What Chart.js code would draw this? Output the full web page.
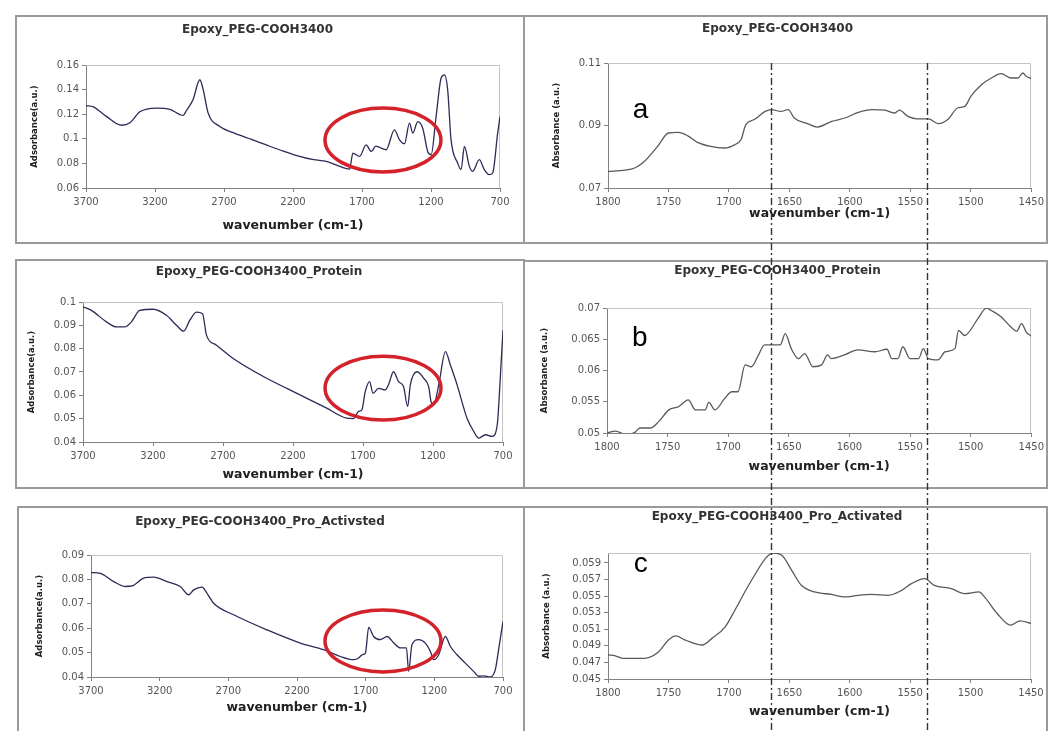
<!DOCTYPE html>
<html>
<head>
<meta charset="utf-8">
<script src="https://cdn.jsdelivr.net/npm/chart.js@4/dist/chart.umd.min.js"></script>
<style>
  html, body { margin: 0; padding: 0; background: #fff; width: 1050px; height: 731px; overflow: hidden; }
  .box { position: absolute; border: 2px solid #9a9a9a; box-sizing: border-box; }
  canvas.pc { position: absolute; z-index: 2; }
  #overlay { position: absolute; left: 0; top: 0; z-index: 5; pointer-events: none; }
</style>
</head>
<body>
<canvas id="overlay" width="1050" height="731"></canvas>
<script>
// ---------- data ----------
const xTicksFull = [3700, 3200, 2700, 2200, 1700, 1200, 700];
const xTicksZoom = [1800, 1750, 1700, 1650, 1600, 1550, 1500, 1450];

const yTicksLeftA = [0.06, 0.08, 0.1, 0.12, 0.14, 0.16];
const yTicksLeftB = [0.04, 0.05, 0.06, 0.07, 0.08, 0.09, 0.1];
const yTicksLeftC = [0.04, 0.05, 0.06, 0.07, 0.08, 0.09];
const yTicksRightA = [0.07, 0.09, 0.11];
const yTicksRightB = [0.05, 0.055, 0.06, 0.065, 0.07];
const yTicksRightC = [0.045, 0.047, 0.049, 0.051, 0.053, 0.055, 0.057, 0.059];

const titles = [
  'Epoxy_PEG-COOH3400', 'Epoxy_PEG-COOH3400',
  'Epoxy_PEG-COOH3400_Protein', 'Epoxy_PEG-COOH3400_Protein',
  'Epoxy_PEG-COOH3400_Pro_Activsted', 'Epoxy_PEG-COOH3400_Pro_Activated'
];
const xTitle = 'wavenumber (cm-1)';
const yTitleLeft = 'Adsorbance(a.u.)';
const yTitleRight = 'Absorbance (a.u.)';

// full spectra, 3700 -> 700
const leftA_x = [3700,3647,3550,3442,3382,3310,3189,3092,2996,2972,2924,2875,2851,2815,2730,2634,2500,2393,2270,2152,2050,1959,1862,1790,1766,1718,1670,1633,1600,1573,1525,1465,1428,1392,1356,1332,1296,1260,1224,1199,1163,1127,1103,1079,1055,1007,982,958,922,898,850,814,777,753,717,700];
const leftA_y = [0.127,0.126,0.118,0.111,0.113,0.122,0.125,0.124,0.119,0.123,0.132,0.148,0.140,0.121,0.110,0.105,0.0995,0.095,0.090,0.0857,0.083,0.0816,0.0776,0.0754,0.0884,0.0857,0.0951,0.0897,0.094,0.093,0.0911,0.1073,0.0992,0.096,0.1127,0.1046,0.114,0.1086,0.0897,0.087,0.1181,0.1492,0.1519,0.1397,0.0995,0.0803,0.0749,0.0938,0.0776,0.0735,0.083,0.0749,0.0708,0.0722,0.1046,0.1181];

const leftB_x = [3700,3640,3533,3462,3402,3354,3295,3199,3104,3032,2980,2937,2889,2846,2818,2746,2627,2388,2150,1959,1816,1768,1732,1708,1684,1653,1629,1589,1541,1518,1482,1446,1410,1381,1362,1314,1266,1231,1214,1195,1159,1111,1076,1028,980,957,909,873,825,777,741,717,700];
const leftB_y = [0.0979,0.0964,0.0915,0.0893,0.0893,0.0915,0.0964,0.0969,0.0943,0.09,0.0875,0.0922,0.0957,0.095,0.0858,0.0815,0.0758,0.0673,0.0602,0.0545,0.0502,0.05,0.0531,0.0538,0.0616,0.0659,0.0609,0.063,0.0623,0.0645,0.0701,0.0659,0.0637,0.0552,0.0645,0.0701,0.0673,0.0637,0.0573,0.0559,0.0645,0.0787,0.073,0.0645,0.0545,0.0502,0.0445,0.0417,0.0431,0.0424,0.0474,0.0701,0.0879];

const leftC_x = [3700,3632,3535,3450,3401,3317,3244,3147,3050,2989,2952,2892,2855,2807,2661,2418,2176,2006,1885,1787,1751,1726,1702,1678,1642,1593,1544,1495,1447,1403,1387,1363,1314,1266,1229,1205,1168,1120,1083,1035,974,914,877,841,792,756,732,700];
const leftC_y = [0.0828,0.0825,0.0791,0.0771,0.0773,0.0805,0.0809,0.0791,0.0771,0.0737,0.0757,0.0768,0.0743,0.0702,0.0655,0.0593,0.0539,0.0512,0.0484,0.0471,0.0478,0.0491,0.0498,0.0603,0.0566,0.0553,0.0566,0.0539,0.0519,0.0519,0.0423,0.0532,0.0553,0.0539,0.0505,0.0471,0.0491,0.0566,0.0525,0.0491,0.0457,0.0423,0.0403,0.0405,0.04,0.043,0.0512,0.0628];

// zoomed spectra, 1800 -> 1450
const rightA_x = [1800,1786,1778,1770,1759,1750,1742,1734,1726,1715,1704,1695,1690,1686,1679,1670,1665,1657,1651,1646,1635,1627,1615,1604,1593,1582,1571,1563,1559,1552,1544,1535,1527,1519,1511,1505,1500,1491,1483,1475,1467,1461,1457,1454,1450];
const rightA_y = [0.0753,0.0757,0.0764,0.0785,0.0833,0.0876,0.0878,0.0867,0.0846,0.0833,0.0828,0.0839,0.0855,0.0903,0.0919,0.0945,0.0951,0.0945,0.0951,0.0924,0.0906,0.0895,0.0913,0.0924,0.0942,0.0951,0.0949,0.094,0.0949,0.0929,0.0921,0.0921,0.0906,0.0919,0.0956,0.0961,0.0993,0.1031,0.1052,0.1066,0.1052,0.1052,0.1068,0.1057,0.1051];

const rightB_x = [1800,1793,1785,1777,1773,1764,1757,1749,1741,1733,1727,1719,1716,1711,1703,1697,1692,1686,1681,1675,1670,1664,1657,1653,1648,1642,1637,1630,1623,1618,1615,1604,1593,1579,1569,1565,1560,1556,1550,1543,1539,1535,1527,1521,1513,1510,1505,1494,1487,1483,1475,1467,1462,1458,1454,1450];
const rightB_y = [0.05,0.0503,0.0498,0.0501,0.0508,0.0508,0.0519,0.0537,0.0542,0.0553,0.0537,0.0537,0.0549,0.0537,0.0555,0.0566,0.0566,0.0609,0.0606,0.0625,0.0641,0.0641,0.0641,0.0659,0.0635,0.0619,0.0627,0.0606,0.0609,0.0625,0.0619,0.0625,0.0633,0.063,0.0634,0.0619,0.0619,0.0638,0.0619,0.0619,0.0635,0.0619,0.0617,0.063,0.0635,0.0664,0.0656,0.0683,0.07,0.0696,0.0686,0.067,0.0663,0.0675,0.0661,0.0655];

const rightC_x = [1800,1794,1788,1770,1758,1750,1744,1736,1722,1714,1703,1695,1686,1678,1670,1664,1656,1648,1640,1629,1615,1604,1593,1582,1568,1557,1549,1538,1530,1516,1505,1493,1489,1478,1467,1459,1450];
const rightC_y = [0.0479,0.0478,0.0475,0.0475,0.0483,0.0497,0.0502,0.0497,0.0491,0.0499,0.0513,0.0533,0.0557,0.0577,0.0595,0.0602,0.0599,0.0581,0.0563,0.0555,0.0552,0.0549,0.0551,0.0552,0.0551,0.0557,0.0565,0.0571,0.0563,0.0559,0.0553,0.0555,0.055,0.0529,0.0515,0.052,0.0517];

// marked amide region: [center x, center y, radius x, radius y] in data units
const ellipseA = [1548, 0.099, 420, 0.026];
const ellipseB = [1557, 0.0631, 414, 0.0137];
const ellipseC = [1574, 0.0548, 422, 0.0127];

// panel letters: [text, x, y]
const letterA = ['a', 1773, 0.095];
const letterB = ['b', 1773, 0.0652];
const letterC = ['c', 1773, 0.0588];

// dash-dot guide lines across the zoomed panels
const guideLines = [1665, 1536];

// ---------- layout (page px): box [left, top, w, h], plot [l, t, r, b] ----------
const FONT = "'DejaVu Sans', 'Liberation Sans', sans-serif";
const panels = [
  { box: [15, 15, 510, 229], plot: [86, 65, 500, 188], titleY: 30, xTitleY: 226, yTitleX: 35,
    title: titles[0], xs: leftA_x, ys: leftA_y, xr: [700, 3700], xTicks: xTicksFull, yr: [0.06, 0.16], yTicks: yTicksLeftA,
    yTitle: yTitleLeft, ellipse: ellipseA, letter: null, color: '#2b2b58' },
  { box: [523, 15, 525, 229], plot: [608, 63, 1032, 188], titleY: 29, xTitleY: 214, yTitleX: 557,
    title: titles[1], xs: rightA_x, ys: rightA_y, xr: [1450, 1800], xTicks: xTicksZoom, yr: [0.07, 0.11], yTicks: yTicksRightA,
    yTitle: yTitleRight, ellipse: null, letter: letterA, color: '#5a5a5a' },
  { box: [15, 259, 510, 230], plot: [83, 302, 503, 442], titleY: 272, xTitleY: 475, yTitleX: 32,
    title: titles[2], xs: leftB_x, ys: leftB_y, xr: [700, 3700], xTicks: xTicksFull, yr: [0.04, 0.1], yTicks: yTicksLeftB,
    yTitle: yTitleLeft, ellipse: ellipseB, letter: null, color: '#2b2b58' },
  { box: [523, 260, 525, 229], plot: [607, 308, 1032, 433], titleY: 271, xTitleY: 467, yTitleX: 545,
    title: titles[3], xs: rightB_x, ys: rightB_y, xr: [1450, 1800], xTicks: xTicksZoom, yr: [0.05, 0.07], yTicks: yTicksRightB,
    yTitle: yTitleRight, ellipse: null, letter: letterB, color: '#5a5a5a' },
  { box: [17, 506, 508, 230], plot: [91, 555, 503, 677], titleY: 522, xTitleY: 708, yTitleX: 40,
    title: titles[4], xs: leftC_x, ys: leftC_y, xr: [700, 3700], xTicks: xTicksFull, yr: [0.04, 0.09], yTicks: yTicksLeftC,
    yTitle: yTitleLeft, ellipse: ellipseC, letter: null, color: '#2b2b58' },
  { box: [523, 506, 525, 230], plot: [608, 553, 1031, 679], titleY: 517, xTitleY: 712, yTitleX: 547,
    title: titles[5], xs: rightC_x, ys: rightC_y, xr: [1450, 1800], xTicks: xTicksZoom, yr: [0.045, 0.0602], yTicks: yTicksRightC,
    yTitle: yTitleRight, ellipse: null, letter: letterC, color: '#5a5a5a' }
];

// plot frame (top/right), red ellipse, panel letter
const decor = {
  id: 'decor',
  beforeDatasetsDraw(chart) {
    const { ctx, chartArea: a } = chart;
    ctx.save();
    ctx.strokeStyle = '#c4c4c4';
    ctx.lineWidth = 1;
    ctx.beginPath();
    ctx.moveTo(a.left, Math.round(a.top) + 0.5);
    ctx.lineTo(Math.round(a.right) - 0.5, Math.round(a.top) + 0.5);
    ctx.lineTo(Math.round(a.right) - 0.5, a.bottom);
    ctx.stroke();
    ctx.restore();
  },
  afterDatasetsDraw(chart, args, opts) {
    const { ctx, scales: { x, y } } = chart;
    ctx.save();
    if (opts.ellipse) {
      const [cx, cy, rx, ry] = opts.ellipse;
      const px = x.getPixelForValue(cx), py = y.getPixelForValue(cy);
      const rpx = Math.abs(x.getPixelForValue(cx + rx) - px);
      const rpy = Math.abs(y.getPixelForValue(cy + ry) - py);
      ctx.strokeStyle = '#d3222a';
      ctx.lineWidth = 3.5;
      ctx.beginPath();
      ctx.ellipse(px, py, rpx, rpy, 0, 0, Math.PI * 2);
      ctx.stroke();
    }
    if (opts.letter) {
      const [t, lx, ly] = opts.letter;
      ctx.fillStyle = '#000';
      ctx.font = "28px 'Liberation Sans', Arial, sans-serif";
      ctx.textAlign = 'center';
      ctx.textBaseline = 'middle';
      ctx.fillText(t, x.getPixelForValue(lx), y.getPixelForValue(ly));
    }
    ctx.restore();
  }
};

const fmtY = (v) => String(+Number(v).toFixed(4));

const charts = panels.map((p) => {
  const [bl, bt, bw, bh] = p.box;
  const box = document.createElement('div');
  box.className = 'box';
  Object.assign(box.style, { left: bl + 'px', top: bt + 'px', width: bw + 'px', height: bh + 'px' });
  document.body.appendChild(box);

  const cv = document.createElement('canvas');
  cv.className = 'pc';
  cv.width = bw; cv.height = bh;
  cv.style.left = bl + 'px'; cv.style.top = bt + 'px';
  document.body.appendChild(cv);

  const pl = p.plot[0] - bl, pt = p.plot[1] - bt, pr = p.plot[2] - bl, pb = p.plot[3] - bt;
  const tc = p.titleY - bt, xc = p.xTitleY - bt, yc = p.yTitleX - bl;

  return new Chart(cv, {
    type: 'line',
    data: {
      datasets: [{
        data: p.xs.map((x, k) => ({ x, y: p.ys[k] })),
        borderColor: p.color, borderWidth: 1.3, pointRadius: 0,
        cubicInterpolationMode: 'monotone', fill: false
      }]
    },
    options: {
      responsive: false, animation: false, events: [],
      layout: { padding: { top: 0, left: 0, bottom: 0, right: bw - pr } },
      plugins: {
        legend: { display: false },
        tooltip: { enabled: false },
        title: {
          display: true, text: p.title, color: '#333',
          font: { family: FONT, size: 12, weight: 'bold', lineHeight: 1.2 },
          padding: { top: tc - 7.2, bottom: pt - tc - 7.2 }
        },
        decor: { ellipse: p.ellipse, letter: p.letter }
      },
      scales: {
        x: {
          type: 'linear', reverse: true, min: p.xr[0], max: p.xr[1],
          afterBuildTicks: (s) => { s.ticks = p.xTicks.map((v) => ({ value: v })); },
          afterFit: (s) => { s.height = bh - pb; },
          ticks: { callback: (v) => String(v), color: '#555', font: { family: FONT, size: 10 }, padding: 4, maxRotation: 0, autoSkip: false },
          grid: { drawOnChartArea: false, color: '#808080', tickLength: 4 },
          border: { color: '#808080', width: 1 },
          title: {
            display: true, text: xTitle, color: '#222',
            font: { family: FONT, size: 12.5, weight: 'bold', lineHeight: 1.2 },
            padding: { top: 0, bottom: bh - xc - 7.5 }
          }
        },
        y: {
          type: 'linear', min: p.yr[0], max: p.yr[1],
          afterBuildTicks: (s) => { s.ticks = p.yTicks.map((v) => ({ value: v })); },
          afterFit: (s) => { s.width = pl; },
          ticks: { callback: fmtY, color: '#555', font: { family: FONT, size: 10 }, padding: 3 },
          grid: { drawOnChartArea: false, color: '#808080', tickLength: 4 },
          border: { color: '#808080', width: 1 },
          title: {
            display: true, text: p.yTitle, color: '#222',
            font: { family: FONT, size: 8.5, weight: 'bold', lineHeight: 1.2 },
            padding: { top: yc - 5.1, bottom: 0 }
          }
        }
      }
    },
    plugins: [decor]
  });
});

// ---------- guide lines through the zoomed panels ----------
const guide = charts[1];
const ov = document.getElementById('overlay').getContext('2d');
const [gl, gt] = panels[1].box;
ov.strokeStyle = '#333';
ov.lineWidth = 1.4;
ov.setLineDash([7, 3, 2, 3]);
guideLines.forEach((v) => {
  const px = Math.round(gl + guide.scales.x.getPixelForValue(v)) + 0.5;
  ov.beginPath();
  ov.moveTo(px, gt + guide.chartArea.top);
  ov.lineTo(px, 731);
  ov.stroke();
});
</script>
</body>
</html>
